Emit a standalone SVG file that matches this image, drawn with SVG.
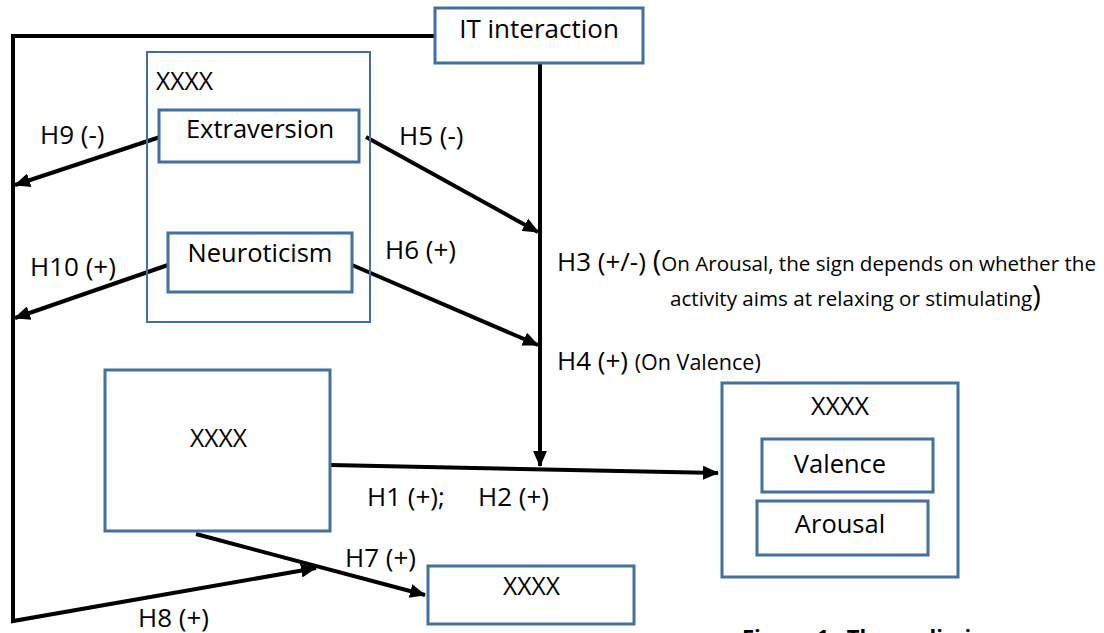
<svg xmlns="http://www.w3.org/2000/svg" width="1104" height="633" viewBox="0 0 1104 633">
<defs>
<marker id="ah" markerUnits="userSpaceOnUse" markerWidth="16" markerHeight="14" refX="15" refY="7" orient="auto">
<path d="M0,0 L16,7 L0,14 Z" fill="#000"/>
</marker>
<style>
.box{fill:#fff;stroke:#41719c;stroke-width:3}
.thin{fill:none;stroke:#41719c;stroke-width:2}
.t{font-family:"Open Sans","Liberation Sans",sans-serif;font-size:26px;fill:#000}
.b{font-size:25.5px}
.c{text-anchor:middle}
.xs{font-size:20.6px}
.ln{fill:none;stroke:#000;stroke-width:4}
.cap{font-family:"Open Sans","Liberation Sans",sans-serif;font-size:22px;font-weight:bold;fill:#000}
</style>
</defs>
<rect width="1104" height="633" fill="#fff"/>

<g id="connectors">
<polyline class="ln" points="435,36 13,36 13,621 316,568" marker-end="url(#ah)"/>
<line class="ln" x1="540" y1="63" x2="540" y2="466" marker-end="url(#ah)"/>
<line class="ln" x1="160" y1="137" x2="15" y2="185" marker-end="url(#ah)"/>
<line class="ln" x1="168" y1="265" x2="15" y2="318" marker-end="url(#ah)"/>
<line class="ln" x1="366" y1="137" x2="538" y2="232" marker-end="url(#ah)"/>
<line class="ln" x1="352" y1="265" x2="538" y2="345" marker-end="url(#ah)"/>
<line class="ln" x1="330" y1="465" x2="718" y2="473" marker-end="url(#ah)"/>
<line class="ln" x1="196" y1="534" x2="425" y2="595" marker-end="url(#ah)"/>
<text class="t" x="40" y="144">H9 (-)</text>
<text class="t" x="30" y="276">H10 (+)</text>
<text class="t" x="399" y="145">H5 (-)</text>
<text class="t" x="385" y="259">H6 (+)</text>
<text class="t" x="557" y="271" font-size="24.5">H3 (+/-) <tspan font-size="29">(</tspan><tspan class="xs">On Arousal, the sign depends on whether the</tspan></text>
<text class="t xs" x="670" y="306">activity aims at relaxing or stimulating<tspan font-size="29">)</tspan></text>
<text class="t" x="557" y="370" font-size="25">H4 (+) <tspan font-size="21.5">(On Valence)</tspan></text>
<text class="t" x="367" y="506">H1 (+);</text>
<text class="t" x="478" y="506">H2 (+)</text>
<text class="t" x="345" y="567">H7 (+)</text>
<text class="t" x="138" y="627">H8 (+)</text>
</g>

<g id="it">
<rect class="box" x="435" y="8" width="208" height="55"/>
<text class="t c" x="539" y="38">IT interaction</text>
</g>

<g id="personality">
<rect class="thin" x="147" y="52" width="223" height="270"/>
<text class="t b" x="156" y="90" textLength="57" lengthAdjust="spacingAndGlyphs">XXXX</text>
</g>
<g id="extraversion">
<rect class="box" x="159" y="110" width="200" height="52"/>
<text class="t b c" x="260" y="138">Extraversion</text>
</g>
<g id="neuroticism">
<rect class="box" x="168" y="233" width="184" height="59"/>
<text class="t b c" x="260" y="262">Neuroticism</text>
</g>

<g id="left-xxxx">
<rect class="box" x="105" y="370" width="225" height="161"/>
<text class="t b" x="190" y="447" textLength="57" lengthAdjust="spacingAndGlyphs">XXXX</text>
</g>

<g id="emotion">
<rect class="box" x="722" y="383" width="236" height="194"/>
<text class="t b" x="811" y="415" textLength="58" lengthAdjust="spacingAndGlyphs">XXXX</text>
</g>
<g id="valence">
<rect class="box" x="762" y="439" width="171" height="53"/>
<text class="t b c" x="840" y="473">Valence</text>
</g>
<g id="arousal">
<rect class="box" x="757" y="501" width="171" height="54"/>
<text class="t b c" x="840" y="533">Arousal</text>
</g>

<g id="bottom-xxxx">
<rect class="box" x="428" y="566" width="206" height="58"/>
<text class="t b" x="503" y="595" textLength="57" lengthAdjust="spacingAndGlyphs">XXXX</text>
</g>

<text class="cap" x="742" y="645">Figure 1 : The preliminary research</text>
</svg>
